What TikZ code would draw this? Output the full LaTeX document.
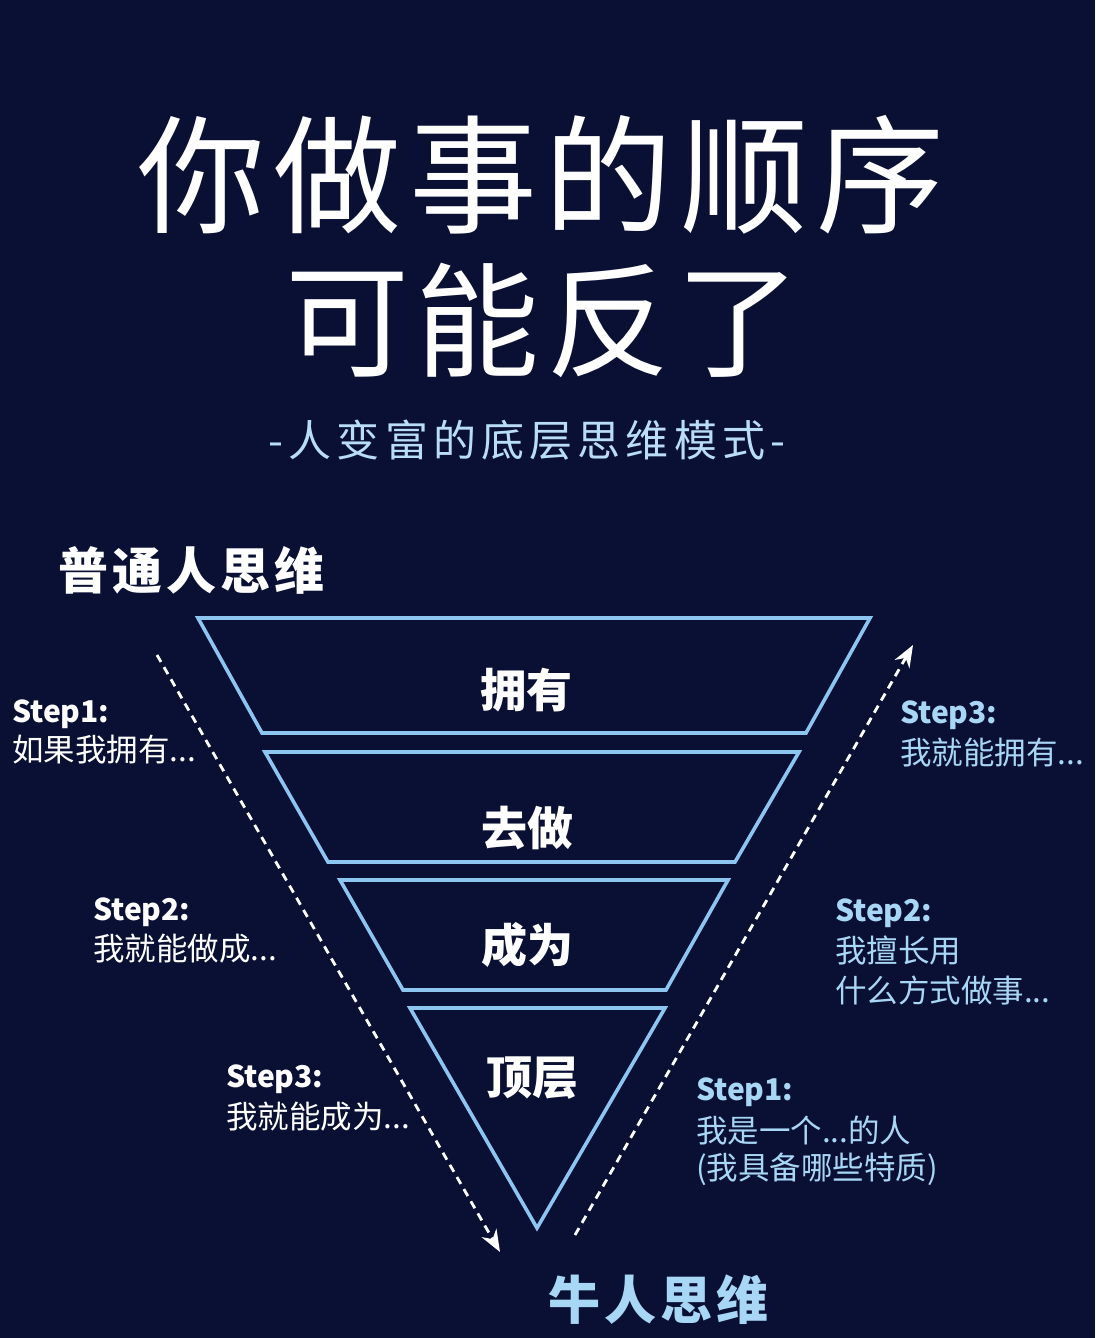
\documentclass[tikz,border=0pt]{standalone}
\usepackage{fontspec}
\usetikzlibrary{arrows.meta}
\newfontfamily\cjk{Noto Sans CJK SC}
\definecolor{bgnavy}{HTML}{0A1034}
\definecolor{edgeblue}{HTML}{8CC6F0}
\definecolor{textblue}{HTML}{A8D6F5}
\definecolor{subblue}{HTML}{B8DDF5}
\tikzset{
  x=1pt, y=-1pt,
  layer/.style={draw=edgeblue, line width=3.6pt, line join=miter},
  lvl/.style={font=\cjk\bfseries\fontsize{46}{46}\selectfont, text=white, inner sep=0pt},
  stepw/.style={font=\cjk\bfseries\fontsize{30}{30}\selectfont, text=white, inner sep=0pt, anchor=base west},
  descw/.style={font=\cjk\fontsize{31.5}{31.5}\selectfont, text=white, inner sep=0pt, anchor=base west},
  stepb/.style={stepw, text=textblue},
  descb/.style={descw, text=textblue},
  flow/.style={draw=white, line width=2.8pt, dash pattern=on 8pt off 6pt, -{Stealth[length=22pt,width=17pt]}},
}
\begin{document}
\begin{tikzpicture}
\fill[bgnavy] (0,0) rectangle (1095,1338);
\useasboundingbox (0,0) rectangle (1095,1338);

% title
\node[font=\cjk\fontsize{128}{128}\selectfont\addfontfeature{LetterSpace=6}, text=white, inner sep=0pt] (t1) at (541,175) {你做事的顺序};
\node[font=\cjk\fontsize{124}{124}\selectfont\addfontfeature{LetterSpace=5}, text=white, inner sep=0pt] (t2) at (543,320) {可能反了};
\node[font=\cjk\fontsize{43}{43}\selectfont\addfontfeature{LetterSpace=12}, text=subblue, inner sep=0pt] (sub) at (527,440) {-人变富的底层思维模式-};

% headers
\node[font=\cjk\bfseries\fontsize{50}{50}\selectfont\addfontfeature{LetterSpace=8}, text=white, inner sep=0pt, anchor=west] (top) at (58,570) {普通人思维};
\node[font=\cjk\bfseries\fontsize{52}{52}\selectfont\addfontfeature{LetterSpace=8}, text=textblue, inner sep=0pt, anchor=west] (bottom) at (548,1300) {牛人思维};

% layers
\draw[layer] (198,618) -- (870,618) -- (806,733) -- (262,733) -- cycle;
\draw[layer] (265,752) -- (799,752) -- (735,862) -- (328,862) -- cycle;
\draw[layer] (340,880) -- (728,880) -- (666,990) -- (403,990) -- cycle;
\draw[layer] (410,1008) -- (665,1008) -- (537,1228) -- cycle;

\node[lvl] (l1) at (526,690) {拥有};
\node[lvl] (l2) at (527,828) {去做};
\node[lvl] (l3) at (527,945) {成为};
\node[lvl] (l4) at (532,1078) {顶层};

% dashed flows
\coordinate (ls) at (157,655);
\coordinate (le) at (500,1252);
\coordinate (rs) at (575,1235);
\coordinate (re) at (913,645);
\draw[flow] (ls) -- (le);
\draw[flow] (rs) -- (re);

% left notes
\node[stepw] (a1) at (12,722) {Step1:};
\node[descw] (a2) at (12,761) {如果我拥有...};
\node[stepw] (b1) at (93,920) {Step2:};
\node[descw] (b2) at (93,960) {我就能做成...};
\node[stepw] (c1) at (226,1087) {Step3:};
\node[descw] (c2) at (226,1128) {我就能成为...};

% right notes
\node[stepb] (d1) at (900,723) {Step3:};
\node[descb] (d2) at (900,764) {我就能拥有...};
\node[stepb] (e1) at (835,921) {Step2:};
\node[descb] (e2) at (835,962) {我擅长用};
\node[descb] (e3) at (835,1002) {什么方式做事...};
\node[stepb] (f1) at (696,1100) {Step1:};
\node[descb] (f2) at (696,1142) {我是一个...的人};
\node[descb] (f3) at (696,1179) {(我具备哪些特质)};
\end{tikzpicture}
\end{document}
